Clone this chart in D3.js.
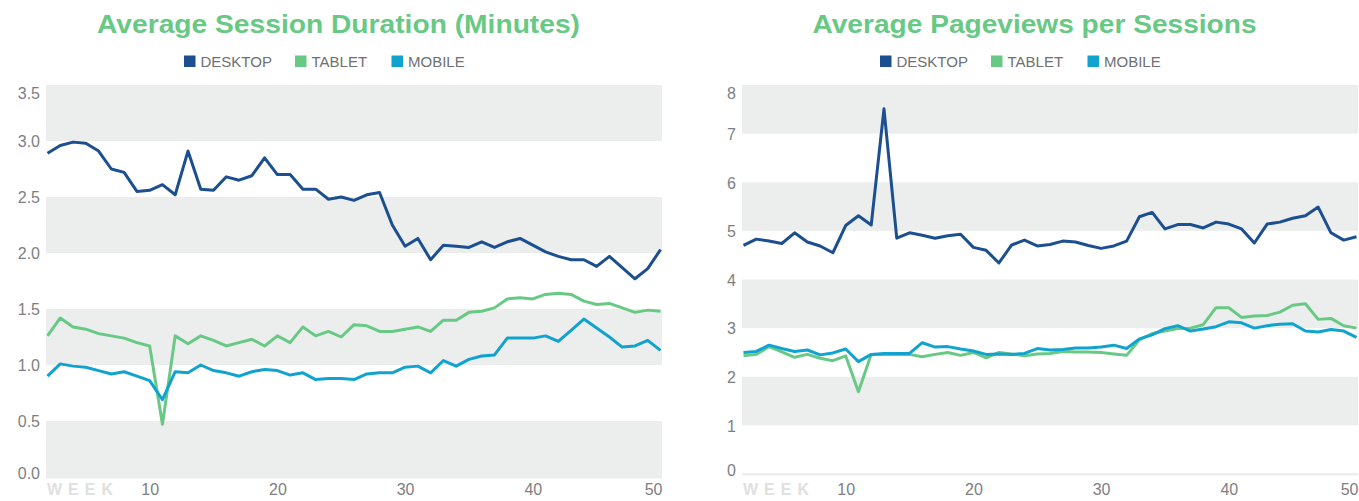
<!DOCTYPE html>
<html>
<head>
<meta charset="utf-8">
<script src="https://cdn.jsdelivr.net/npm/d3@7"></script>
<style>
  body { margin: 0; background: #fff; }
  svg { display: block; font-family: "Liberation Sans", Arial, sans-serif; }
</style>
</head>
<body>
<div id="chart"></div>
<script>
const width = 1359
const height = 501

// weeks shown on the x axis (first point is week 2)
const weeks = [2, 3, 4, 5, 6, 7, 8, 9, 10, 11, 12, 13, 14, 15, 16, 17, 18, 19, 20, 21, 22, 23, 24, 25, 26,
  27, 28, 29, 30, 31, 32, 33, 34, 35, 36, 37, 38, 39, 40, 41, 42, 43, 44, 45, 46, 47, 48, 49, 50];
const weekTicks = [10, 20, 30, 40, 50];
const seriesNames = ["DESKTOP", "TABLET", "MOBILE"];
const seriesColors = ["#1b4f8f", "#68c985", "#10a3d0"];

// Average Session Duration (Minutes)
const durationTicks = [0, 0.5, 1, 1.5, 2, 2.5, 3, 3.5];
const durationDesktop = [2.89, 2.96, 2.99, 2.98, 2.91, 2.75, 2.72, 2.55, 2.56, 2.61, 2.52, 2.91, 2.57, 2.56, 2.68,
  2.65, 2.69, 2.85, 2.70, 2.70, 2.57, 2.57, 2.48, 2.50, 2.47, 2.52, 2.54, 2.25, 2.06, 2.13, 1.94, 2.07, 2.06,
  2.05, 2.10, 2.05, 2.10, 2.13, 2.07, 2.01, 1.97, 1.94, 1.94, 1.88, 1.97, 1.87, 1.77, 1.86, 2.03];
const durationTablet = [1.26, 1.42, 1.34, 1.32, 1.28, 1.26, 1.24, 1.20, 1.17, 0.47, 1.26, 1.19, 1.26, 1.22, 1.17,
  1.20, 1.23, 1.17, 1.26, 1.20, 1.34, 1.26, 1.30, 1.25, 1.36, 1.35, 1.30, 1.30, 1.32, 1.34, 1.30, 1.40, 1.40,
  1.47, 1.48, 1.51, 1.59, 1.60, 1.59, 1.63, 1.64, 1.63, 1.57, 1.54, 1.55, 1.51, 1.47, 1.49, 1.48];
const durationMobile = [0.90, 1.01, 0.99, 0.98, 0.95, 0.92, 0.94, 0.90, 0.86, 0.69, 0.94, 0.93, 1.00, 0.95, 0.93,
  0.90, 0.94, 0.96, 0.95, 0.91, 0.93, 0.87, 0.88, 0.88, 0.87, 0.92, 0.93, 0.93, 0.98, 0.99, 0.93, 1.04, 0.99,
  1.05, 1.08, 1.09, 1.24, 1.24, 1.24, 1.26, 1.21, 1.31, 1.41, 1.33, 1.25, 1.16, 1.17, 1.22, 1.13];

// Average Pageviews per Sessions
const pageviewTicks = [0, 1, 2, 3, 4, 5, 6, 7, 8];
const pageviewDesktop = [4.70, 4.83, 4.79, 4.74, 4.96, 4.77, 4.69, 4.55, 5.11, 5.31, 5.12, 7.51, 4.85, 4.96, 4.91,
  4.85, 4.90, 4.93, 4.66, 4.60, 4.34, 4.71, 4.81, 4.69, 4.72, 4.79, 4.77, 4.70, 4.64, 4.69, 4.79, 5.29, 5.38,
  5.04, 5.13, 5.13, 5.06, 5.18, 5.14, 5.04, 4.75, 5.14, 5.18, 5.26, 5.31, 5.49, 4.96, 4.81, 4.88];
const pageviewTablet = [2.43, 2.46, 2.62, 2.51, 2.40, 2.46, 2.38, 2.33, 2.43, 1.69, 2.46, 2.46, 2.46, 2.46, 2.41,
  2.46, 2.50, 2.44, 2.50, 2.39, 2.50, 2.47, 2.43, 2.47, 2.48, 2.52, 2.51, 2.51, 2.50, 2.47, 2.44, 2.76, 2.89,
  2.94, 2.99, 3.00, 3.07, 3.42, 3.42, 3.22, 3.25, 3.26, 3.33, 3.47, 3.50, 3.18, 3.20, 3.05, 3.00];
const pageviewMobile = [2.50, 2.52, 2.65, 2.58, 2.52, 2.55, 2.45, 2.49, 2.57, 2.31, 2.46, 2.48, 2.48, 2.48, 2.70,
  2.61, 2.62, 2.57, 2.53, 2.46, 2.47, 2.46, 2.48, 2.58, 2.55, 2.56, 2.59, 2.59, 2.61, 2.65, 2.58, 2.78, 2.86,
  2.99, 3.05, 2.94, 2.98, 3.03, 3.13, 3.11, 3.00, 3.05, 3.08, 3.09, 2.94, 2.92, 2.97, 2.94, 2.81];

const svg = d3.select('#chart')
  .append('svg')
  .attr('width', width)
  .attr('height', height);

function drawChart(offsetX, opts) {
  const left = 46, right = 662, top = 85;

  const g = svg.append('g')
    .attr('transform', `translate(${offsetX},0)`);

  let x = d3.scaleLinear()
    .domain([weeks[0], weeks[weeks.length - 1]])
    .range([left + 1.5, right - 1.5]);

  let y = d3.scaleLinear()
    .domain([0, opts.ticks[opts.ticks.length - 1]])
    .range([opts.bottom, top]);

  // alternating background bands, grey from the top band down
  const n = opts.ticks.length - 1;
  const bands = opts.ticks.slice(0, -1).map((t, i) => ({ lo: t, hi: opts.ticks[i + 1], i: i }))
    .filter(d => (n - 1 - d.i) % 2 === 0);
  g.append('g')
    .selectAll('rect')
    .data(bands)
    .join('rect')
    .attr('x', left)
    .attr('width', right - left)
    .attr('y', d => y(d.hi))
    .attr('height', d => y(d.lo) - y(d.hi))
    .attr('fill', '#eceeed');

  // baseline
  g.append('rect')
    .attr('x', left)
    .attr('width', right - left)
    .attr('y', y(0) - 1)
    .attr('height', 2.5)
    .attr('fill', '#eceeed');

  // title
  g.append('text')
    .attr('x', 338.5)
    .attr('y', 32.5)
    .attr('text-anchor', 'middle')
    .attr('font-size', 26)
    .attr('font-weight', 'bold')
    .attr('fill', '#68c985')
    .attr('textLength', opts.titleWidth)
    .attr('lengthAdjust', 'spacingAndGlyphs')
    .text(opts.title);

  // legend
  const legendX = [184, 295, 391.5];
  const legend = g.append('g')
    .selectAll('g')
    .data(seriesNames)
    .join('g')
    .attr('transform', (d, i) => `translate(${legendX[i]},55.5)`);
  legend.append('rect')
    .attr('width', 11.5)
    .attr('height', 11.5)
    .attr('fill', (d, i) => seriesColors[i]);
  legend.append('text')
    .attr('x', 16.5)
    .attr('y', 11.2)
    .attr('font-size', 15)
    .attr('fill', '#6e7072')
    .text(d => d);

  // y axis
  const yAxis = g.append('g')
    .attr('transform', `translate(${left},0)`)
    .call(d3.axisLeft(y).tickValues(opts.ticks).tickSize(0).tickPadding(6).tickFormat(opts.format))
    .call(a => a.select('.domain').remove());
  yAxis.selectAll('text')
    .attr('font-size', 16)
    .attr('font-family', '"Liberation Sans", Arial, sans-serif')
    .attr('fill', '#7d8083')
    .attr('dy', '0.36em')
    .attr('y', d => Math.max(top + 8, Math.min(opts.bottom - 4, y(d))) - y(d));

  // x axis
  const xAxis = g.append('g')
    .attr('transform', `translate(0,${opts.bottom})`)
    .call(d3.axisBottom(x).tickValues(weekTicks).tickSize(0))
    .call(a => a.select('.domain').remove());
  xAxis.selectAll('text')
    .attr('font-size', 16)
    .attr('font-family', '"Liberation Sans", Arial, sans-serif')
    .attr('fill', '#7d8083')
    .attr('dy', 0)
    .attr('y', 495 - opts.bottom)
    .attr('text-anchor', (d, i) => i === weekTicks.length - 1 ? 'end' : 'middle')
    .attr('x', (d, i) => i === weekTicks.length - 1 ? right - x(d) : 0);

  g.append('text')
    .attr('x', 47)
    .attr('y', 495)
    .attr('font-size', 16)
    .attr('font-weight', 'bold')
    .attr('letter-spacing', 6)
    .attr('fill', '#dfe0e0')
    .text('WEEK');

  // lines
  const line = d3.line()
    .x((d, i) => x(weeks[i]))
    .y(d => y(d));

  g.append('g')
    .selectAll('path')
    .data(opts.series)
    .join('path')
    .attr('d', d => line(d))
    .attr('fill', 'none')
    .attr('stroke', (d, i) => seriesColors[i])
    .attr('stroke-width', 3)
    .attr('stroke-linejoin', 'round');
}

drawChart(0, {
  title: 'Average Session Duration (Minutes)',
  titleWidth: 483,
  ticks: durationTicks,
  format: d3.format('.1f'),
  bottom: 477,
  series: [durationDesktop, durationTablet, durationMobile]
});

drawChart(696, {
  title: 'Average Pageviews per Sessions',
  titleWidth: 444,
  ticks: pageviewTicks,
  format: d3.format('d'),
  bottom: 474,
  series: [pageviewDesktop, pageviewTablet, pageviewMobile]
});
</script>
</body>
</html>
